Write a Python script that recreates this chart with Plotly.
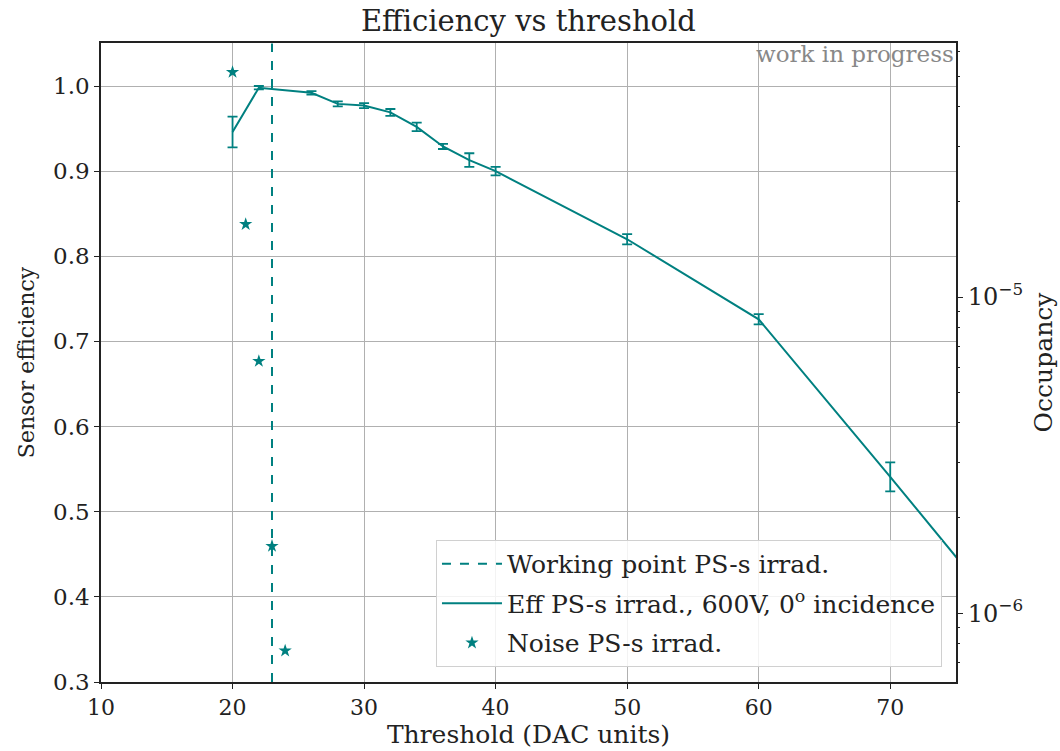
import plotly.graph_objects as go

TEAL = "#008080"

# Efficiency data
thr_eff = [20, 22, 26, 28, 30, 32, 34, 36, 38, 40, 50, 60, 70, 80]
eff = [0.946, 0.998, 0.992, 0.979, 0.977, 0.969, 0.952, 0.929, 0.913, 0.900, 0.820, 0.726, 0.541, 0.353]
eff_err = [0.018, 0.002, 0.002, 0.003, 0.003, 0.004, 0.005, 0.003, 0.008, 0.005, 0.006, 0.006, 0.017, 0.010]

# Noise occupancy data
thr_noise = [20, 21, 22, 23, 24]
occupancy = [5.15e-5, 1.70e-5, 6.27e-6, 1.63e-6, 7.6e-7]

working_point = 23

x_ticks = [10, 20, 30, 40, 50, 60, 70]
y_ticks = [0.3, 0.4, 0.5, 0.6, 0.7, 0.8, 0.9, 1.0]
y2_major = [1e-6, 1e-5]
y2_labels = ["10<sup>\u22126</sup>", "10<sup>\u22125</sup>"]
y2_minor = [7e-7, 8e-7, 9e-7, 2e-6, 3e-6, 4e-6, 5e-6, 6e-6, 7e-6, 8e-6, 9e-6,
            2e-5, 3e-5, 4e-5, 5e-5, 6e-5]

FONT = "DejaVu Serif"
TXT = "#222222"

fig = go.Figure()

fig.add_trace(go.Scatter(
    x=[working_point, working_point], y=[0.3, 1.05],
    mode="lines", line=dict(color=TEAL, width=2, dash="dash"),
    name="Working point PS-s irrad.", yaxis="y", legendgroup="a",
))

fig.add_trace(go.Scatter(
    x=thr_eff, y=eff, mode="lines",
    line=dict(color=TEAL, width=2),
    error_y=dict(type="data", array=eff_err, visible=True, color=TEAL, thickness=1.8, width=5),
    name="Eff PS-s irrad., 600V, 0<sup>o</sup> incidence", yaxis="y", legendgroup="b",
))

fig.add_trace(go.Scatter(
    x=thr_noise, y=occupancy, mode="markers",
    marker=dict(symbol="star", size=10, color=TEAL),
    name="Noise PS-s irrad.", yaxis="y2", legendgroup="c",
))

fig.update_layout(
    width=1060, height=751,
    margin=dict(l=101, r=104, t=43, b=69),
    paper_bgcolor="white", plot_bgcolor="white",
    font=dict(family=FONT, size=20, color=TXT),
    title=dict(text="Efficiency vs threshold", x=0.4985, xanchor="center",
               y=0.972, yanchor="middle", font=dict(family=FONT, size=29, color=TXT)),
    xaxis=dict(
        range=[10, 75], tickvals=x_ticks, showgrid=True, gridcolor="#b0b0b0", gridwidth=1,
        ticks="outside", ticklen=5, tickcolor=TXT, showline=True, linecolor=TXT,
        linewidth=1.5, mirror=True, zeroline=False, tickfont=dict(size=22), automargin=False,
        title=dict(text="Threshold (DAC units)", standoff=2, font=dict(family=FONT, size=25)),
    ),
    yaxis=dict(
        range=[0.3, 1.0505], tickvals=y_ticks, tickformat=".1f", showgrid=True,
        gridcolor="#b0b0b0", gridwidth=1, tickfont=dict(size=23), automargin=False,
        ticks="outside", ticklen=5, tickcolor=TXT, showline=True, linecolor=TXT,
        linewidth=1.5, mirror=True, zeroline=False,
        title=dict(text="Sensor efficiency", standoff=12,
                   font=dict(family=FONT, size=22)),
    ),
    yaxis2=dict(
        type="log", overlaying="y", side="right", range=[-6.218, -4.196],
        tickvals=y2_major, ticktext=y2_labels, showgrid=False, zeroline=False,
        ticks="outside", ticklen=6, tickcolor=TXT, tickfont=dict(size=24), automargin=False,
        minor=dict(tickvals=y2_minor, ticks="outside", ticklen=3, tickcolor=TXT, showgrid=False),
        title=dict(text="Occupancy", standoff=12, font=dict(family=FONT, size=25)),
    ),
    legend=dict(
        x=0.9836, y=0.0235, xanchor="right", yanchor="bottom",
        bgcolor="rgba(255,255,255,0.85)", bordercolor="#d0d0d0", borderwidth=1,
        font=dict(family=FONT, size=25, color=TXT), tracegroupgap=4,
        traceorder="grouped", itemwidth=60,
    ),
    showlegend=True,
)

fig.add_annotation(
    text="work in progress", xref="paper", yref="paper", x=1.0, y=1.0,
    xanchor="right", yanchor="top", showarrow=False, yshift=4,
    font=dict(family=FONT, size=23, color="#888888"),
)

fig.write_html("out.html")
